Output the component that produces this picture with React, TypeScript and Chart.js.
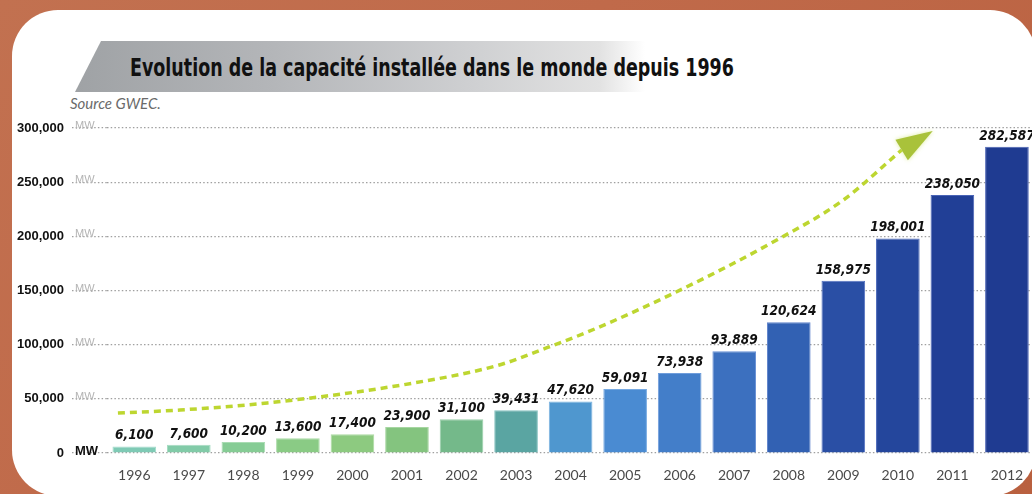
import React, { useEffect, useRef } from "react";
import { Chart, registerables } from "chart.js";

Chart.register(...registerables);

const years = ["1996","1997","1998","1999","2000","2001","2002","2003","2004","2005","2006","2007","2008","2009","2010","2011","2012"];
const capacityMW = [6100, 7600, 10200, 13600, 17400, 23900, 31100, 39431, 47620, 59091, 73938, 93889, 120624, 158975, 198001, 238050, 282587];
const barColors = ["#7fcab5","#82cba8","#86cc95","#8acb85","#8dca80","#84c47f","#74b98a","#5aa5a2","#4f97cf","#4a8bd2","#437ec9","#3c70bf","#3261b3","#2a4fa5","#24469c","#213f96","#1f3b91"];
const barBorders = ["#a4dccb","#a6dcc2","#a9dcb3","#abdba7","#addaa2","#a6d6a1","#98cfa9","#85c2c0","#7ab3e0","#76a9e2","#6f9ddb","#6890d4","#5e82cb","#5673c2","#4e6abb","#4a64b6","#4861b3"];
const yTicks = [0, 50000, 100000, 150000, 200000, 250000, 300000];
const trendX = [-0.3, 0.84, 2.44, 5.11, 6.71, 7.45, 8.3, 9.82, 11.78, 13.0, 14.07];
const trendY = [36900, 39700, 46200, 64500, 81500, 95000, 111500, 145800, 196600, 233500, 279700];
const arrowTip = { x: 14.64, y: 297200 };

const titleText = "Evolution de la capacité installée dans le monde depuis 1996";
const sourceText = "Source GWEC.";

export default function App() {
  const ref = useRef<HTMLCanvasElement>(null);

  useEffect(() => {
    if (!ref.current) return;
    const extras = {
      id: "extras",
      afterDatasetsDraw(chart: any) {
        const ctx = chart.ctx;
        const ys = chart.scales.y;
        const xt = chart.scales.xt;
        // arrow head
        const n = trendX.length - 1;
        const ex = xt.getPixelForValue(trendX[n]);
        const ey = ys.getPixelForValue(trendY[n]);
        const tx = xt.getPixelForValue(arrowTip.x);
        const ty = ys.getPixelForValue(arrowTip.y);
        const dx = tx - ex, dy = ty - ey;
        const len = Math.hypot(dx, dy);
        const px = -dy / len, py = dx / len;
        const hw = 12;
        ctx.save();
        ctx.beginPath();
        ctx.moveTo(tx, ty);
        ctx.lineTo(ex + px * hw, ey + py * hw);
        ctx.lineTo(ex - px * hw, ey - py * hw);
        ctx.closePath();
        ctx.fillStyle = "#a9c23a";
        ctx.shadowColor = "rgba(200,225,90,0.6)";
        ctx.shadowBlur = 4;
        ctx.fill();
        ctx.restore();

        // value labels
        const meta = chart.getDatasetMeta(1);
        ctx.save();
        ctx.font = "italic bold 13.5px 'Liberation Sans Narrow', 'DejaVu Sans Condensed', sans-serif";
        ctx.fillStyle = "#111";
        ctx.textAlign = "center";
        ctx.textBaseline = "bottom";
        meta.data.forEach((bar: any, i: number) => {
          ctx.fillText(capacityMW[i].toLocaleString("en-US"), bar.x, bar.y - 4);
        });
        ctx.restore();

        // MW unit labels next to y ticks
        ctx.save();
        ctx.textBaseline = "middle";
        ctx.textAlign = "left";
        yTicks.forEach((v) => {
          const y = ys.getPixelForValue(v);
          if (v === 0) {
            ctx.font = "bold 13px 'Liberation Sans', sans-serif";
            ctx.fillStyle = "#111";
          } else {
            ctx.font = "11px 'Liberation Sans', sans-serif";
            ctx.fillStyle = "#b4b4b4";
          }
          ctx.fillText("MW", 75, y - 2);
        });
        ctx.restore();
      },
    };

    const chart = new Chart(ref.current, {
      type: "bar",
      data: {
        labels: years,
        datasets: [
          {
            type: "line",
            label: "tendance",
            data: trendX.map((x, i) => ({ x, y: trendY[i] })),
            xAxisID: "xt",
            yAxisID: "y",
            borderColor: "#bdd630",
            borderWidth: 3.5,
            borderDash: [7, 5],
            pointRadius: 0,
            cubicInterpolationMode: "monotone",
            fill: false,
            order: 0,
          } as any,
          {
            type: "bar",
            label: "Capacité installée (MW)",
            data: capacityMW,
            xAxisID: "x",
            yAxisID: "y",
            backgroundColor: barColors,
            borderColor: barBorders,
            borderWidth: 1,
            barPercentage: 0.8,
            categoryPercentage: 1,
            grouped: false,
            order: 1,
          },
        ],
      },
      options: {
        responsive: false,
        animation: false,
        devicePixelRatio: 1,
        layout: { padding: { top: 128, right: 5.8, left: 0, bottom: 0 } },
        plugins: { legend: { display: false }, tooltip: { enabled: false } },
        scales: {
          x: {
            type: "category",
            offset: true,
            grid: { display: false },
            border: { display: false },
            ticks: {
              color: "#4a4a4a",
              padding: 6,
              font: { family: "'Lato', 'DejaVu Sans', sans-serif", size: 14 },
            },
            afterFit: (axis: any) => { axis.height = 41; },
          },
          xt: {
            type: "linear",
            display: false,
            offset: false,
            grid: { offset: false },
            bounds: "ticks",
            min: -0.5,
            max: 16.5,
          },
          y: {
            min: 0,
            max: 300000,
            afterBuildTicks: (axis: any) => { axis.ticks = yTicks.map((v) => ({ value: v })); },
            grid: {
              color: "#a0a0a0",
              lineWidth: 1.2,
              tickBorderDash: [1.5, 2.2],
              tickLength: 35,
              drawTicks: true,
            },
            border: { display: false, dash: [1.5, 2.2] },
            ticks: {
              color: "#111",
              padding: 8,
              font: { family: "'Liberation Sans', sans-serif", size: 13, weight: "bold" },
              callback: (v: any) => Number(v).toLocaleString("en-US"),
            },
            afterFit: (axis: any) => { axis.width = 107; },
          },
        },
      },
      plugins: [extras],
    } as any);
    return () => chart.destroy();
  }, []);

  return (
    <div style={{ position: "absolute", left: 0, top: 0, width: 1032, height: 494, overflow: "hidden",
      background: "linear-gradient(135deg, #c27150 0%, #c06a4a 40%, #b9603f 100%)" }}>
      <div style={{ position: "absolute", left: 12, top: 10, width: 1024, height: 486, background: "#fff", borderRadius: 46 }} />
      <div style={{ position: "absolute", left: 75, top: 41, width: 570, height: 51,
        background: "linear-gradient(90deg, #9fa2a5 0%, #b4b6b9 35%, #cfd0d2 70%, #e2e2e2 92%, rgba(255,255,255,0) 100%)",
        clipPath: "polygon(26px 0, 100% 0, 100% 100%, 0 100%)" }} />
      <div style={{ position: "absolute", left: 130, top: 53, font: "bold 24px 'Liberation Sans Narrow', 'DejaVu Sans Condensed', sans-serif", color: "#111", whiteSpace: "nowrap", lineHeight: "30px", transform: "scaleX(0.81)", transformOrigin: "0 0" }}>{titleText}</div>
      <div style={{ position: "absolute", left: 70, top: 93, font: "italic 15px 'Lato', 'Liberation Sans', sans-serif", color: "#6a6a6a", whiteSpace: "nowrap", lineHeight: "20px" }}>{sourceText}</div>
      <canvas ref={ref} width={1040} height={494} style={{ position: "absolute", left: 0, top: 0, width: 1040, height: 494 }} />
    </div>
  );
}
